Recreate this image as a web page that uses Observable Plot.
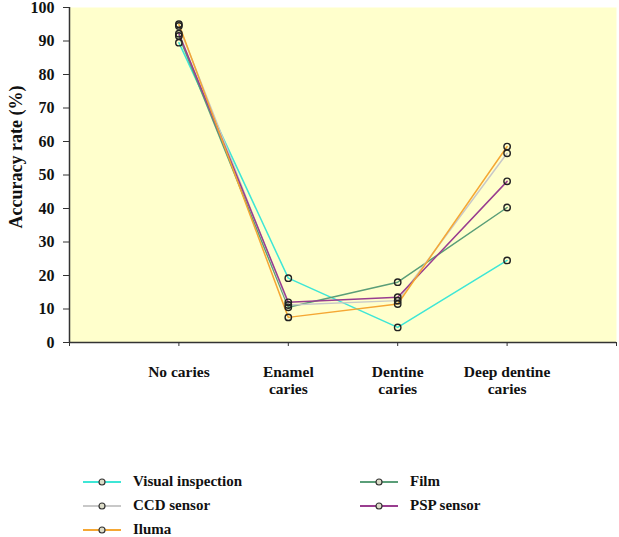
<!DOCTYPE html>
<html>
<head>
<meta charset="utf-8">
<script src="https://cdn.jsdelivr.net/npm/d3@7"></script>
<script src="https://cdn.jsdelivr.net/npm/@observablehq/plot@0.6"></script>
<style>
  html, body { margin: 0; padding: 0; background: #ffffff; }
  #chart { width: 619px; }
  .legend { position: relative; width: 619px; height: 90px; font-family: "Liberation Serif", "Times New Roman", serif; font-weight: bold; font-size: 15px; color: #111; }
  .item { position: absolute; display: flex; align-items: center; }
  .item svg { margin-right: 12px; }
</style>
</head>
<body>
<div id="chart"></div>
<div class="legend" id="legend"></div>
<script>
const categories = ["No caries", "Enamel\ncaries", "Dentine\ncaries", "Deep dentine\ncaries"];
const seriesNames = ["Visual inspection", "Film", "CCD sensor", "PSP sensor", "Iluma"];
const seriesColors = ["#3ee6d6", "#5a9e78", "#c8c8c8", "#993d8f", "#f5a733"];
const visualInspection = [89.5, 19.2, 4.5, 24.5];
const film = [91.5, 10.5, 18.0, 40.3];
const ccdSensor = [94.5, 11.2, 12.5, 56.5];
const pspSensor = [92.2, 12.0, 13.5, 48.1];
const iluma = [95.0, 7.5, 11.5, 58.5];
const yTicks = [0, 10, 20, 30, 40, 50, 60, 70, 80, 90, 100];

const valuesBySeries = [visualInspection, film, ccdSensor, pspSensor, iluma];
const data = [];
seriesNames.forEach((s, si) => valuesBySeries[si].forEach((v, i) => data.push({series: s, idx: i, value: v})));

const font = "Liberation Serif, Times New Roman, serif";

const chart = Plot.plot({
  width: 619,
  height: 446,
  marginLeft: 69,
  marginRight: 3,
  marginTop: 7,
  marginBottom: 104,
  style: {fontFamily: font, fontWeight: "bold", fontSize: "15px", color: "#111", background: "#ffffff", overflow: "visible"},
  x: {domain: [-1, 4], axis: null},
  y: {domain: [0, 100], axis: null},
  color: {domain: seriesNames, range: seriesColors},
  marks: [
    Plot.frame({fill: "#ffffcc", stroke: null}),
    Plot.axisY({ticks: yTicks, tickSize: 6, tickPadding: 9, label: null, stroke: "#333", fontSize: 16, letterSpacing: "0.8px"}),
    Plot.axisX({ticks: [-1, 0, 1, 2, 3, 4], tickSize: 4, tickPadding: 18, label: null, stroke: "#333",
      tickFormat: i => categories[i] ?? "", lineHeight: 1.1, fontSize: 15.5}),
    Plot.ruleY([0], {stroke: "#333", strokeWidth: 1.5}),
    Plot.ruleX([-1], {stroke: "#333", strokeWidth: 1.5}),
    Plot.text(["Accuracy rate (%)"], {frameAnchor: "left", textAnchor: "middle", rotate: -90, dx: -53, dy: -18, fontSize: 18, fontWeight: "bold", fill: "#111"}),
    Plot.line(data, {x: "idx", y: "value", z: "series", stroke: "series", strokeWidth: 1.5}),
    Plot.dot(data, {x: "idx", y: "value", r: 3.2, stroke: "#222", strokeWidth: 1.4, fill: "none"})
  ]
});
document.getElementById("chart").appendChild(chart);

// Legend (HTML, below the SVG)
const legend = document.getElementById("legend");
const legendPos = [
  {left: 83, top: 36}, {left: 360, top: 36},
  {left: 83, top: 60}, {left: 360, top: 60},
  {left: 83, top: 84}
];
seriesNames.forEach((name, i) => {
  const el = document.createElement("div");
  el.className = "item";
  el.style.left = legendPos[i].left + "px";
  el.style.top = (legendPos[i].top - 9) + "px";
  el.innerHTML = `<svg width="38" height="14"><line x1="0" y1="7" x2="38" y2="7" stroke="${seriesColors[i]}" stroke-width="2"/><circle cx="19" cy="7" r="3" fill="#dcdcc8" stroke="#333" stroke-width="1.2"/></svg><span>${name}</span>`;
  legend.appendChild(el);
});
</script>
</body>
</html>
